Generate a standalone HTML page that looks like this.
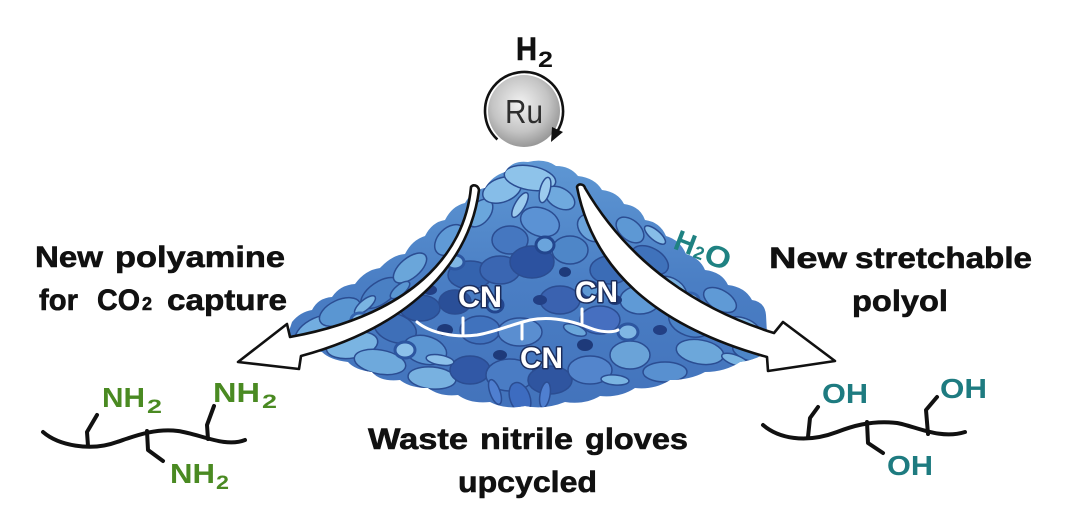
<!DOCTYPE html>
<html>
<head>
<meta charset="utf-8">
<style>
html,body{margin:0;padding:0;background:#fff;}
body{width:1080px;height:526px;overflow:hidden;}
svg{display:block;}
text{font-family:"Liberation Sans",Arial,sans-serif;}
</style>
</head>
<body>
<svg width="1080" height="526" viewBox="0 0 1080 526" xmlns="http://www.w3.org/2000/svg">
<defs>
  <radialGradient id="ru" cx="0.45" cy="0.4" r="0.65">
    <stop offset="0" stop-color="#f2f2f2"/>
    <stop offset="0.6" stop-color="#c4c4c4"/>
    <stop offset="1" stop-color="#8e8e8e"/>
  </radialGradient>
  <linearGradient id="pileg" x1="0" y1="0" x2="0" y2="1">
    <stop offset="0" stop-color="#5f98d4"/>
    <stop offset="0.5" stop-color="#4a7ec4"/>
    <stop offset="1" stop-color="#4272bb"/>
  </linearGradient>
  <clipPath id="pileclip">
    <path d="M 288,334 L 292,322 Q 300,312 312,310 Q 318,298 332,297 Q 340,285 355,284 Q 365,270 380,268 Q 392,255 405,254 Q 412,240 425,236 Q 432,222 445,220 Q 452,206 465,203 Q 472,190 485,188 Q 492,176 505,172 Q 512,160 528,162 Q 545,158 556,166 Q 570,166 578,176 Q 595,178 602,190 Q 618,192 624,204 Q 640,206 645,220 Q 660,222 666,236 Q 680,240 686,254 Q 700,258 705,270 Q 722,272 728,285 Q 745,287 752,300 Q 765,302 766,315 L 768,352 Q 755,360 740,362 Q 725,372 705,372 Q 690,380 670,380 Q 655,390 635,388 Q 620,398 600,396 Q 585,405 565,402 Q 545,410 525,406 Q 505,410 490,402 Q 470,404 458,395 Q 440,397 428,388 Q 410,388 400,380 Q 380,382 372,372 Q 355,370 348,362 Q 330,360 322,352 Q 305,350 300,342 Z"/>
  </clipPath>
</defs>

<!-- Glove pile -->
<g clip-path="url(#pileclip)">
  <rect x="280" y="155" width="500" height="260" fill="url(#pileg)"/>
  <g stroke="#2b4d92" stroke-width="1.5">
  <ellipse cx="315" cy="330" rx="22" ry="11" fill="#72ade0" transform="rotate(-30 315 330)"/>
  <ellipse cx="340" cy="312" rx="22" ry="12" fill="#5a96d2" transform="rotate(-25 340 312)"/>
  <ellipse cx="352" cy="345" rx="26" ry="13" fill="#7ab4e2" transform="rotate(-10 352 345)"/>
  <ellipse cx="380" cy="293" rx="22" ry="11" fill="#4a80c4" transform="rotate(-35 380 293)"/>
  <ellipse cx="395" cy="328" rx="22" ry="14" fill="#3e6fb8" transform="rotate(20 395 328)"/>
  <ellipse cx="380" cy="362" rx="26" ry="12" fill="#6ea9dc" transform="rotate(10 380 362)"/>
  <ellipse cx="410" cy="268" rx="20" ry="10" fill="#6aa6da" transform="rotate(-40 410 268)"/>
  <ellipse cx="420" cy="308" rx="20" ry="13" fill="#2f5aa4"/>
  <ellipse cx="425" cy="350" rx="22" ry="14" fill="#5b95d2" transform="rotate(15 425 350)"/>
  <ellipse cx="432" cy="378" rx="24" ry="11" fill="#78b1e0" transform="rotate(5 432 378)"/>
  <ellipse cx="450" cy="240" rx="18" ry="12" fill="#5f9ad6" transform="rotate(-45 450 240)"/>
  <ellipse cx="470" cy="275" rx="22" ry="14" fill="#3463ae"/>
  <ellipse cx="455" cy="302" rx="16" ry="12" fill="#2a4f98"/>
  <ellipse cx="480" cy="213" rx="16" ry="10" fill="#6aa6dc" transform="rotate(-50 480 213)"/>
  <ellipse cx="502" cy="190" rx="20" ry="12" fill="#86bde8" transform="rotate(-20 502 190)"/>
  <ellipse cx="530" cy="178" rx="26" ry="12" fill="#8ec3ea" transform="rotate(10 530 178)"/>
  <ellipse cx="510" cy="240" rx="18" ry="14" fill="#4577c0"/>
  <ellipse cx="540" cy="222" rx="20" ry="14" fill="#5b92d4" transform="rotate(20 540 222)"/>
  <ellipse cx="560" cy="198" rx="16" ry="10" fill="#6fa9de" transform="rotate(30 560 198)"/>
  <ellipse cx="500" cy="270" rx="20" ry="14" fill="#3a66b2"/>
  <ellipse cx="532" cy="262" rx="22" ry="16" fill="#2c52a0"/>
  <ellipse cx="570" cy="250" rx="18" ry="14" fill="#4e86c8"/>
  <ellipse cx="592" cy="228" rx="16" ry="12" fill="#6aa3da" transform="rotate(40 592 228)"/>
  <ellipse cx="610" cy="270" rx="20" ry="14" fill="#3b6cb6"/>
  <ellipse cx="480" cy="330" rx="20" ry="14" fill="#4072bd"/>
  <ellipse cx="520" cy="332" rx="22" ry="14" fill="#5a8ed0"/>
  <ellipse cx="560" cy="300" rx="20" ry="14" fill="#3a62b0"/>
  <ellipse cx="600" cy="320" rx="20" ry="14" fill="#466fc0"/>
  <ellipse cx="470" cy="370" rx="20" ry="14" fill="#3158a6"/>
  <ellipse cx="510" cy="375" rx="24" ry="16" fill="#4a7cc4"/>
  <ellipse cx="550" cy="380" rx="22" ry="14" fill="#2f55a0"/>
  <ellipse cx="520" cy="398" rx="16" ry="10" fill="#3d6cc0" transform="rotate(70 520 398)"/>
  <ellipse cx="590" cy="370" rx="22" ry="14" fill="#5385cc"/>
  <ellipse cx="630" cy="355" rx="20" ry="14" fill="#6aa3d8"/>
  <ellipse cx="630" cy="230" rx="16" ry="10" fill="#5d98d4" transform="rotate(40 630 230)"/>
  <ellipse cx="650" cy="260" rx="20" ry="12" fill="#3f72bb" transform="rotate(30 650 260)"/>
  <ellipse cx="640" cy="300" rx="20" ry="14" fill="#5f9ad6"/>
  <ellipse cx="670" cy="290" rx="18" ry="12" fill="#78b1e0" transform="rotate(30 670 290)"/>
  <ellipse cx="690" cy="322" rx="22" ry="14" fill="#4a82c6" transform="rotate(20 690 322)"/>
  <ellipse cx="700" cy="352" rx="24" ry="12" fill="#6ca7da" transform="rotate(10 700 352)"/>
  <ellipse cx="720" cy="300" rx="18" ry="10" fill="#5f9ad6" transform="rotate(30 720 300)"/>
  <ellipse cx="742" cy="330" rx="20" ry="12" fill="#7fb6e2" transform="rotate(20 742 330)"/>
  <ellipse cx="665" cy="372" rx="22" ry="10" fill="#5890d0"/>
  <ellipse cx="748" cy="352" rx="16" ry="8" fill="#4d86c8" transform="rotate(20 748 352)"/>
  <!-- fingers -->
  <ellipse cx="330" cy="335" rx="14" ry="5" fill="#86bde8" transform="rotate(-35 330 335)"/>
  <ellipse cx="365" cy="305" rx="13" ry="5" fill="#7ab4e2" transform="rotate(-40 365 305)"/>
  <ellipse cx="440" cy="360" rx="14" ry="5" fill="#8cc0ea" transform="rotate(10 440 360)"/>
  <ellipse cx="520" cy="205" rx="14" ry="5" fill="#9ccbee" transform="rotate(-60 520 205)"/>
  <ellipse cx="545" cy="190" rx="13" ry="5" fill="#9ccbee" transform="rotate(-75 545 190)"/>
  <ellipse cx="605" cy="245" rx="14" ry="5" fill="#7ab4e2" transform="rotate(45 605 245)"/>
  <ellipse cx="655" cy="235" rx="13" ry="5" fill="#86bde8" transform="rotate(40 655 235)"/>
  <ellipse cx="712" cy="330" rx="16" ry="5" fill="#86bde8" transform="rotate(25 712 330)"/>
  <ellipse cx="735" cy="360" rx="14" ry="5" fill="#7ab4e2" transform="rotate(20 735 360)"/>
  <ellipse cx="495" cy="392" rx="13" ry="5" fill="#4f7fd0" transform="rotate(70 495 392)"/>
  <ellipse cx="545" cy="395" rx="13" ry="5" fill="#4f7fd0" transform="rotate(100 545 395)"/>
  <ellipse cx="615" cy="380" rx="14" ry="5" fill="#7ab4e2" transform="rotate(5 615 380)"/>
  <ellipse cx="400" cy="290" rx="12" ry="5" fill="#5a96d2" transform="rotate(-40 400 290)"/>
  <ellipse cx="575" cy="330" rx="12" ry="5" fill="#6aa6da" transform="rotate(20 575 330)"/>
  </g>
  <!-- rolled cuffs -->
  <ellipse cx="405" cy="350" rx="10" ry="8" fill="#8cc0ea" stroke="#2d56a0" stroke-width="3"/>
  <ellipse cx="455" cy="262" rx="9" ry="7" fill="#7fb6e4" stroke="#2d56a0" stroke-width="3"/>
  <ellipse cx="545" cy="245" rx="9" ry="8" fill="#6aa4dc" stroke="#23468e" stroke-width="3"/>
  <ellipse cx="628" cy="332" rx="10" ry="8" fill="#7fb6e4" stroke="#2d56a0" stroke-width="3"/>
  <ellipse cx="690" cy="300" rx="9" ry="7" fill="#8cc0ea" stroke="#3463ae" stroke-width="3"/>
  <ellipse cx="590" cy="290" rx="9" ry="8" fill="#5d98d4" stroke="#23468e" stroke-width="3"/>
  <ellipse cx="495" cy="305" rx="8" ry="7" fill="#6aa4dc" stroke="#23468e" stroke-width="3"/>
  <ellipse cx="360" cy="320" rx="9" ry="7" fill="#8cc0ea" stroke="#3463ae" stroke-width="3"/>
  <!-- dark spots -->
  <ellipse cx="445" cy="330" rx="8" ry="6" fill="#1e3a7a"/>
  <ellipse cx="585" cy="345" rx="8" ry="6" fill="#1e3a7a"/>
  <ellipse cx="615" cy="300" rx="7" ry="5" fill="#1e3a7a"/>
  <ellipse cx="430" cy="290" rx="7" ry="5" fill="#223f84"/>
  <ellipse cx="540" cy="300" rx="7" ry="5" fill="#223f84"/>
  <ellipse cx="660" cy="330" rx="7" ry="5" fill="#223f84"/>
  <ellipse cx="500" cy="355" rx="7" ry="5" fill="#1e3a7a"/>
  <ellipse cx="565" cy="272" rx="6" ry="5" fill="#1e3a7a"/>
</g>

<!-- Ru catalyst -->
<circle cx="524" cy="111" r="36" fill="url(#ru)"/>
<path d="M 497.4,139.5 A 39 39 0 1 1 557.8,130.5" fill="none" stroke="#111" stroke-width="2.6"/>
<polygon points="563,132 552,127 551,142" fill="#111"/>
<text x="505" y="123" font-size="33" fill="#2e2e2e" textLength="38" lengthAdjust="spacingAndGlyphs">Ru</text>

<!-- H2 -->
<text x="516" y="60" font-size="32" font-weight="bold" fill="#111" stroke="#111" stroke-width="0.6" textLength="21" lengthAdjust="spacingAndGlyphs">H</text>
<text x="538" y="67" font-size="22" font-weight="bold" fill="#111" textLength="15" lengthAdjust="spacingAndGlyphs">2</text>

<!-- Left arrow -->
<path d="M 471,187 C 465,255 410,315 290,337 L 287,324 L 238,362 L 299,369 L 301,356 C 415,325 470,260 479,190 C 478,185 473,184 471,187 Z" fill="#fff" stroke="#111" stroke-width="2.6" stroke-linejoin="round"/>

<!-- Right arrow -->
<path d="M 577,187 C 595,280 670,330 767,357 L 768,371 L 835,361 L 783,322 L 774,333 C 700,310 630,265 585,188 C 584,184 578,183 577,187 Z" fill="#fff" stroke="#111" stroke-width="2.6" stroke-linejoin="round"/>

<!-- CN chain -->
<g stroke="#fff" stroke-width="3" fill="none" stroke-linecap="round">
  <path d="M 417,322 C 430,333 455,338 477,335 C 495,332 510,325 530,320 C 550,316 570,320 590,328 C 600,332 612,333 618,330"/>
  <line x1="463" y1="318" x2="463" y2="334"/>
  <line x1="522" y1="324" x2="522" y2="339"/>
  <line x1="582" y1="309" x2="582" y2="325"/>
</g>
<g font-size="30" font-weight="bold" fill="#fff" stroke="#1b2d5c" stroke-width="3" paint-order="stroke" stroke-linejoin="round">
  <text x="458" y="307" textLength="44" lengthAdjust="spacingAndGlyphs">CN</text>
  <text x="575" y="302" textLength="43" lengthAdjust="spacingAndGlyphs">CN</text>
  <text x="520" y="368" textLength="43" lengthAdjust="spacingAndGlyphs">CN</text>
</g>

<!-- H2O -->
<g transform="translate(672,248) rotate(21)" fill="#1f8282" font-weight="bold">
  <text x="0" y="0" font-size="29" textLength="21" lengthAdjust="spacingAndGlyphs">H</text>
  <text x="22" y="1" font-size="18">2</text>
  <text x="33" y="2" font-size="30" textLength="26" lengthAdjust="spacingAndGlyphs">O</text>
</g>

<!-- Left labels -->
<g font-size="30" font-weight="bold" fill="#111" stroke="#111" stroke-width="0.6">
  <text x="35" y="267" textLength="68" lengthAdjust="spacingAndGlyphs">New</text>
  <text x="115" y="267" textLength="170" lengthAdjust="spacingAndGlyphs">polyamine</text>
  <text x="39" y="310" textLength="39" lengthAdjust="spacingAndGlyphs">for</text>
  <text x="97" y="310" textLength="43" lengthAdjust="spacingAndGlyphs">CO</text>
  <text x="142" y="310" font-size="18" textLength="10" lengthAdjust="spacingAndGlyphs">2</text>
  <text x="167" y="310" textLength="120" lengthAdjust="spacingAndGlyphs">capture</text>
</g>

<!-- Right labels -->
<g font-size="30" font-weight="bold" fill="#111" stroke="#111" stroke-width="0.6">
  <text x="769" y="268" textLength="78" lengthAdjust="spacingAndGlyphs">New</text>
  <text x="855" y="268" textLength="177" lengthAdjust="spacingAndGlyphs">stretchable</text>
  <text x="852" y="311" textLength="96" lengthAdjust="spacingAndGlyphs">polyol</text>
</g>

<!-- Bottom labels -->
<g font-size="30" font-weight="bold" fill="#111" stroke="#111" stroke-width="0.6">
  <text x="368" y="449" textLength="100" lengthAdjust="spacingAndGlyphs">Waste</text>
  <text x="480" y="449" textLength="93" lengthAdjust="spacingAndGlyphs">nitrile</text>
  <text x="585" y="449" textLength="103" lengthAdjust="spacingAndGlyphs">gloves</text>
  <text x="458" y="492" textLength="139" lengthAdjust="spacingAndGlyphs">upcycled</text>
</g>

<!-- Polyamine chain -->
<g stroke="#111" stroke-width="4" fill="none" stroke-linecap="round" stroke-linejoin="round">
  <path d="M 43,432 C 58,445 90,452 117,442 C 135,436 155,428 178,431 C 200,434 225,448 245,440"/>
  <path d="M 88,446 L 87,432 L 97,415"/>
  <path d="M 147,431 L 148,450 L 163,461"/>
  <path d="M 208,439 L 207,425 L 214,406"/>
</g>
<g font-weight="bold" fill="#4a8a22">
  <text x="102" y="407" font-size="28" textLength="43" lengthAdjust="spacingAndGlyphs">NH</text>
  <text x="147" y="413" font-size="19" textLength="15" lengthAdjust="spacingAndGlyphs">2</text>
  <text x="213" y="402" font-size="28" textLength="47" lengthAdjust="spacingAndGlyphs">NH</text>
  <text x="262" y="408" font-size="19" textLength="15" lengthAdjust="spacingAndGlyphs">2</text>
  <text x="170" y="483" font-size="28" textLength="45" lengthAdjust="spacingAndGlyphs">NH</text>
  <text x="216" y="489" font-size="19" textLength="13" lengthAdjust="spacingAndGlyphs">2</text>
</g>

<!-- Polyol chain -->
<g stroke="#111" stroke-width="4" fill="none" stroke-linecap="round" stroke-linejoin="round">
  <path d="M 763,425 C 778,438 805,444 837,432 C 850,427 870,420 897,423 C 915,426 940,440 965,432"/>
  <path d="M 808,437 L 810,418 L 818,407"/>
  <path d="M 867,422 L 868,443 L 883,453"/>
  <path d="M 928,434 L 926,410 L 937,397"/>
</g>
<g font-size="28" font-weight="bold" fill="#1e7b80">
  <text x="822" y="403" textLength="46" lengthAdjust="spacingAndGlyphs">OH</text>
  <text x="940" y="398" textLength="47" lengthAdjust="spacingAndGlyphs">OH</text>
  <text x="887" y="475" textLength="46" lengthAdjust="spacingAndGlyphs">OH</text>
</g>
</svg>
</body>
</html>
